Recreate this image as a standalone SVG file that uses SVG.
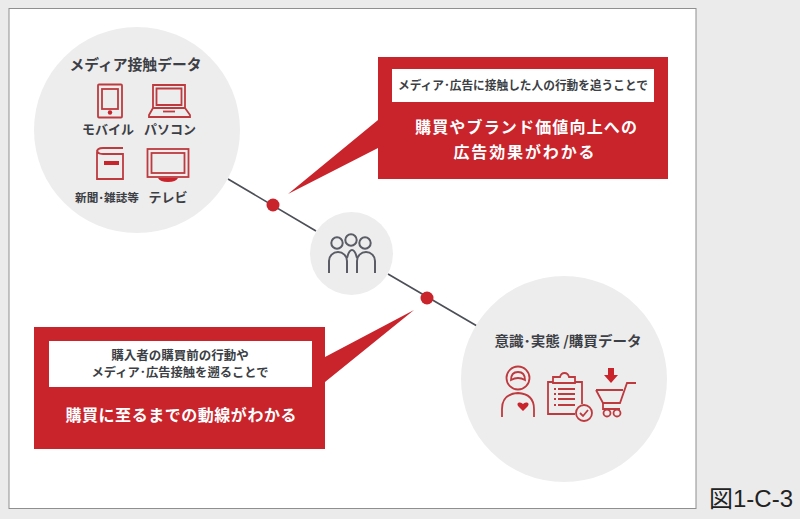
<svg xmlns="http://www.w3.org/2000/svg" width="800" height="519" viewBox="0 0 800 519">
<style>
text{font-family:"Noto Sans CJK JP","Noto Sans",sans-serif;text-anchor:middle}
.d{fill:#3c3f45;font-weight:700}
.w{fill:#fff;font-weight:700;font-size:16px}
.c{fill:#eeedee}
.r{fill:#c9242c}
.i{fill:none;stroke:#bd3a3f;stroke-width:1.8}
.p{fill:none;stroke:#5a5d66;stroke-width:2}
.l{stroke:#4d4f58;stroke-width:1.7;fill:none}
</style>
<rect width="800" height="519" fill="#ebebeb"/>
<rect x="9" y="8.500" width="687" height="500" fill="#fff" stroke="#8f8f8f"/>
<g id="connectors">
<path class="l" d="M228 179L316 231M388 274L477 326"/>
</g>
<g id="dot-1"><circle class="r" cx="273" cy="205" r="6.500"/></g>
<g id="dot-2"><circle class="r" cx="427" cy="298" r="6.500"/></g>
<g id="media-data">
<circle class="c" cx="137" cy="130" r="103"/>
<text class="d" x="135.500" y="70" font-size="14.800">メディア接触データ</text>
<g id="mobile">
<rect class="i" x="98" y="84.500" width="24" height="33" rx="1"/>
<rect class="i" x="102" y="89" width="16" height="20"/>
<circle class="r" cx="110" cy="112.500" r="2.200"/>
<text class="d" x="108" y="134" font-size="13">モバイル</text>
</g>
<g id="pc">
<path class="i" d="M153 85H185V108H153ZM156.500 88.500H181.500V105H156.500Z"/>
<path class="i" d="M153 108L149 115V117H190V115L185 108"/>
<path class="i" d="M163 111.500H175"/>
<text class="d" x="170" y="134" font-size="13">パソコン</text>
</g>
<g id="newspaper">
<path class="i" d="M123 148H103Q97 148 97 152V179H123V154H103Q97 154 97 150"/>
<rect class="r" x="104" y="161" width="15" height="4"/>
<text class="d" x="107" y="202" font-size="11.500" textLength="64" lengthAdjust="spacingAndGlyphs">新聞･雑誌等</text>
</g>
<g id="tv">
<rect class="i" x="147.500" y="149" width="41" height="28"/>
<rect class="i" x="151.500" y="153" width="33" height="20"/>
<path class="r" d="M158 178H178Q176 182 168 182Q160 182 158 178Z"/>
<text class="d" x="168" y="202" font-size="13">テレビ</text>
</g>
</g>
<g id="people">
<circle class="c" cx="351.500" cy="253.500" r="41.500"/>
<circle class="p" cx="337" cy="243" r="5.700"/>
<circle class="p" cx="351" cy="240" r="5.700"/>
<circle class="p" cx="365" cy="243" r="5.700"/>
<path class="p" d="M329 273V261A9 9 0 0 1 347 261V273M347 258Q349 250 352 250Q355 250 357 258M357 273V261A9 9 0 0 1 375 261V273"/>
</g>
<g id="callout-top">
<path class="r" d="M378 57H668V179H378V148L288 194L378 120Z"/>
<rect x="392" y="69" width="262" height="33" fill="#fff"/>
<text class="d" x="523" y="90" font-size="12" textLength="250" lengthAdjust="spacingAndGlyphs">メディア･広告に接触した人の行動を追うことで</text>
<text class="w" x="526" y="133" textLength="222" lengthAdjust="spacing">購買やブランド価値向上への</text>
<text class="w" x="524" y="158" textLength="141" lengthAdjust="spacing">広告効果がわかる</text>
</g>
<g id="callout-bottom">
<path class="r" d="M34 327H325V357L414 310L325 382V449H34Z"/>
<rect x="49" y="341" width="263" height="46" fill="#fff"/>
<text class="d" x="180" y="360" font-size="12.500">購入者の購買前の行動や</text>
<text class="d" x="180" y="377" font-size="12" textLength="177" lengthAdjust="spacingAndGlyphs">メディア･広告接触を遡ることで</text>
<text class="w" x="181" y="421" textLength="231" lengthAdjust="spacing">購買に至るまでの動線がわかる</text>
</g>
<g id="awareness-data">
<circle class="c" cx="564" cy="379" r="103"/>
<text class="d" x="568" y="346" font-size="14" textLength="147" lengthAdjust="spacingAndGlyphs">意識･実態 /購買データ</text>
<g id="person">
<circle class="i" cx="518" cy="378" r="11.500"/>
<path class="i" d="M511 380Q511 372 518 372Q525 372 525 380Q518 376 511 380Z"/>
<path class="i" d="M502 417V409Q502 394 518 393Q534 394 534 409V417"/>
<path class="r" d="M523 411L518 406Q516.500 403 519 402.500Q521.500 402 523 404Q524.500 402 527 402.500Q529.500 403 528 406Z"/>
</g>
<g id="survey">
<path class="i" d="M553 382H548V414H575M575 382H582V404"/>
<path class="i" d="M553 383V377H560Q561 373 564.500 373Q568 373 569 377H575V383Z"/>
<path class="i" d="M558 389H575M558 394H575M558 399H575M558 405H575" stroke-width="2.200"/>
<path class="i" d="M554 389H556M554 394H556M554 399H556M554 405H556" stroke-width="2.200"/>
<circle class="i" cx="584" cy="413" r="8"/>
<path class="i" d="M580 413L583 416L588 410"/>
</g>
<g id="cart">
<path class="r" d="M608 368H614V375H618L611 383L604 375H608Z"/>
<path class="i" d="M596 390H623M596 390L603 403H620L627 383H636"/>
<path class="i" d="M603 403V409H620"/>
<circle class="i" cx="607" cy="413" r="3.500"/>
<circle class="i" cx="617" cy="413" r="3.500"/>
</g>
</g>
<g id="caption"><text x="751" y="507" font-size="23" fill="#222" textLength="84" lengthAdjust="spacingAndGlyphs" style="font-family:'Liberation Sans','Noto Sans CJK JP',sans-serif">図1-C-3</text></g>
</svg>
